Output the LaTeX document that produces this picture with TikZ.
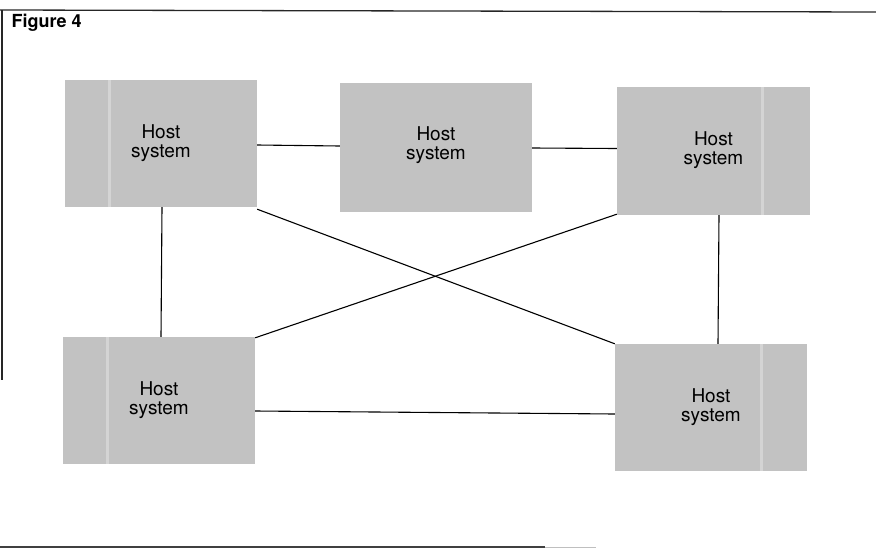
\documentclass[tikz,border=0pt]{standalone}
\usepackage{fontspec}
\setmainfont{TeX Gyre Heros}
\begin{document}
\begin{tikzpicture}[x=1pt,y=-1pt,
  hostbox/.style={fill=black!24, draw=none, minimum width=192pt, minimum height=127pt,
    inner sep=0pt},
  hostlabel/.style={align=center, inner sep=0pt, font=\fontsize{19}{19}\selectfont},
  stripe/.style={fill=black!17, draw=none},
  link/.style={draw=black, line width=1.1pt},
  rule/.style={draw=black!85, line width=1.3pt}]
  \useasboundingbox (0,0) rectangle (876,552);

  % frame rules around the figure
  \draw[rule] (0,10) -- (876,12);
  \draw[rule] (2,10) -- (2,380);
  \draw[rule, black!75] (0,547) -- (545,547);
  \draw[line width=1pt, black!25] (545,547) -- (596,547);

  \node[anchor=base west, font=\bfseries\fontsize{18}{20}\selectfont] (title) at (8,27) {Figure 4};

  % host systems
  \node[hostbox] (B1) at (161,143.5) {};
  \node[hostbox, minimum height=129pt] (B2) at (436,147.5) {};
  \node[hostbox, minimum width=193pt, minimum height=128pt] (B3) at (713.5,151) {};
  \node[hostbox] (B4) at (159,400.5) {};
  \node[hostbox] (B5) at (711,407.5) {};

  % lighter seams in the tint
  \fill[stripe] (108,80) rectangle (111,207);
  \fill[stripe] (106,337) rectangle (109,464);
  \fill[stripe] (761,87) rectangle (764,215);
  \fill[stripe] (760,344) rectangle (763,471);

  \node[hostlabel] (T1) at (B1) {Host\\system};
  \node[hostlabel] (T2) at ([yshift=2pt]B2) {Host\\system};
  \node[hostlabel] (T3) at ([yshift=1pt]B3) {Host\\system};
  \node[hostlabel] (T4) at (B4) {Host\\system};
  \node[hostlabel] (T5) at (B5) {Host\\system};

  % connections
  \draw[link] ([yshift=-1.5pt]B1.east) -- ([yshift=1.5pt]B2.west);
  \draw[link] ([yshift=-0.5pt]B2.east) -- ([yshift=2.5pt]B3.west);
  \draw[link] ([xshift=1pt]B1.south) -- ([xshift=2pt]B4.north);
  \draw[link] ([xshift=5.5pt]B3.south) -- ([xshift=7pt]B5.north);
  \draw[link] ([yshift=-10.5pt]B4.east) -- ([yshift=-6.5pt]B5.west);
  \draw[link] ([yshift=-2pt]B1.south east) -- (B5.north west);
  \draw[link] ([yshift=-1pt]B4.north east) -- ([yshift=1pt]B3.south west);
\end{tikzpicture}
\end{document}
